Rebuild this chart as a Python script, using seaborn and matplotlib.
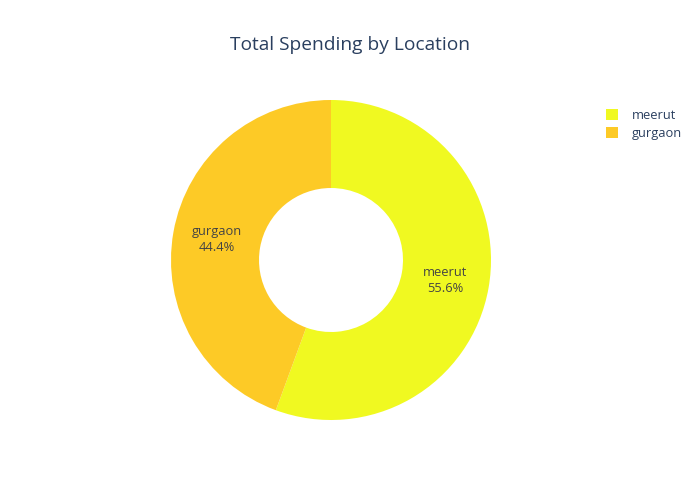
import matplotlib
matplotlib.use("Agg")
import matplotlib.pyplot as plt
from matplotlib.patches import Patch
import seaborn as sns

# -------------------- DATA --------------------
locations = ["meerut", "gurgaon"]
spending = [55.6, 44.4]
colors = ["#f0f921", "#fdca26"]

# -------------------- STYLE --------------------
sns.set_theme(style="white")
plt.rcParams["font.family"] = ["Open Sans", "DejaVu Sans"]
palette = sns.color_palette(colors)

fig = plt.figure(figsize=(7, 5), dpi=100)
fig.patch.set_facecolor("white")

# pie area: centre at (331, 260) px, radius 160 px
ax = fig.add_axes([171 / 700, 80 / 500, 320 / 700, 320 / 500])

names = iter(locations)


def fmt(pct):
    return f"{next(names)}\n{pct:.1f}%"


wedges, texts, autotexts = ax.pie(
    spending,
    colors=palette,
    startangle=90,
    counterclock=False,
    radius=1.0,
    autopct=fmt,
    pctdistance=0.725,
    wedgeprops=dict(width=0.55, edgecolor="none"),
    textprops=dict(color="#444444", fontsize=9.3, linespacing=1.25),
)
ax.set_xlim(-1, 1)
ax.set_ylim(-1, 1)
ax.set_aspect("equal")
ax.axis("off")

fig.text(0.5, 1 - 45 / 500, "Total Spending by Location", ha="center", va="center",
         fontsize=13.8, color="#2a3f5f")

handles = [Patch(facecolor=c, edgecolor="none") for c in palette]
leg = fig.legend(handles, locations, loc="upper left", bbox_to_anchor=(606 / 700, 1 - 109 / 500),
                 frameon=False, handlelength=0.95, handleheight=0.95, handletextpad=1.05,
                 labelspacing=0.4, fontsize=9.3, borderaxespad=0, borderpad=0)
for t in leg.get_texts():
    t.set_color("#2a3f5f")

plt.savefig("out.png", dpi=100, facecolor="white")
plt.close()
